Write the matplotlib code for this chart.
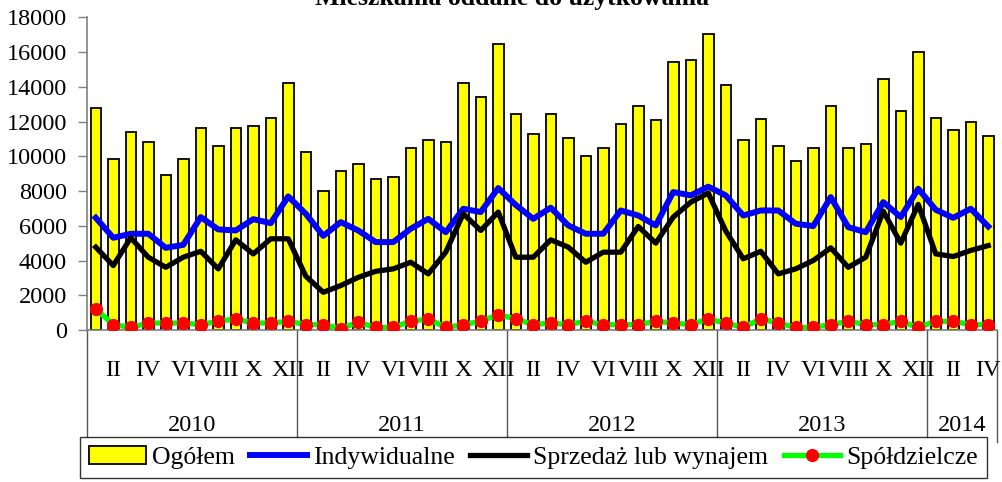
import matplotlib
matplotlib.use("Agg")
import matplotlib.pyplot as plt
from matplotlib.patches import Patch
from matplotlib.lines import Line2D
import numpy as np

plt.rcParams['font.family'] = ['Liberation Serif', 'DejaVu Serif']

# monthly data, I 2010 - IV 2014
years = ['2010', '2011', '2012', '2013', '2014']
months_per_year = [12, 12, 12, 12, 4]
month_names = ['I', 'II', 'III', 'IV', 'V', 'VI', 'VII', 'VIII', 'IX', 'X', 'XI', 'XII']

ogolem = [12800, 9870, 11400, 10800, 8940, 9870, 11630, 10580, 11630, 11750, 12230, 14230,
          10230, 8000, 9170, 9540, 8690, 8830, 10480, 10920, 10830, 14230, 13400, 16460,
          12460, 11290, 12460, 11060, 10000, 10480, 11860, 12920, 12090, 15400, 15520, 17050,
          14090, 10920, 12120, 10580, 9750, 10460, 12920, 10460, 10690, 14460, 12580, 15980,
          12210, 11520, 11980, 11150]
indywidualne = [6460, 5310, 5540, 5540, 4730, 4900, 6500, 5790, 5730, 6380, 6150, 7690,
                6690, 5420, 6210, 5730, 5060, 5060, 5830, 6400, 5630, 6980, 6790, 8170,
                7200, 6400, 7040, 6020, 5540, 5540, 6880, 6590, 6020, 7940, 7750, 8250,
                7750, 6590, 6880, 6880, 6120, 5980, 7650, 5920, 5630, 7360, 6500, 8130,
                6920, 6460, 6980, 5960]
sprzedaz = [4770, 3710, 5310, 4190, 3610, 4190, 4530, 3520, 5190, 4380, 5250, 5250,
            3100, 2170, 2560, 3030, 3380, 3520, 3900, 3230, 4480, 6690, 5730, 6790,
            4190, 4190, 5190, 4770, 3900, 4480, 4480, 5960, 5000, 6500, 7360, 7880,
            5700, 4100, 4530, 3230, 3520, 4000, 4730, 3610, 4190, 6840, 5000, 7230,
            4380, 4230, 4580, 4860]
spoldzielcze = [1210, 310, 150, 400, 400, 400, 310, 500, 640, 400, 400, 500,
                310, 310, 80, 440, 150, 150, 500, 640, 150, 310, 500, 880,
                640, 310, 400, 310, 500, 310, 310, 310, 500, 400, 310, 640,
                400, 150, 640, 400, 150, 150, 310, 500, 310, 310, 500, 150,
                500, 500, 310, 310]

n = len(ogolem)
x = np.arange(n)

fig = plt.figure(figsize=(10.03, 4.82), dpi=100)
W, H = 1003, 482
ax = fig.add_axes([87 / W, (H - 330) / H, (997 - 87) / W, (330 - 17.3) / H])

ax.bar(x, ogolem, width=0.6, color='#ffff00', edgecolor='black', linewidth=1.3, zorder=2)
ax.plot(x, indywidualne, color='#0000ff', linewidth=4.3, zorder=3)
ax.plot(x, sprzedaz, color='black', linewidth=3.8, zorder=4)
ax.plot(x, spoldzielcze, color='#00ff00', linewidth=3.8, marker='o', markersize=8.5,
        markerfacecolor='#ff0000', markeredgecolor='#ff0000', zorder=5)

ax.set_xlim(-0.5, n - 0.5)
ax.set_ylim(0, 18000)
ax.set_yticks(np.arange(0, 18001, 2000))
ax.tick_params(axis='y', labelsize=17.5, length=6.5, width=1, color='#808080', pad=8)
ax.set_xticks([])
for s in ['top', 'right']:
    ax.spines[s].set_visible(False)
for s in ['left', 'bottom']:
    ax.spines[s].set_color('#808080')
    ax.spines[s].set_linewidth(1.2)

# category axis: months and years
tr = ax.get_xaxis_transform()
start = 0
bounds = [0]
for yr, cnt in zip(years, months_per_year):
    for m in range(cnt):
        if m % 2 == 1:
            ax.text(start + m, -0.13, month_names[m], transform=tr, ha='center', va='center',
                    fontsize=17.5, clip_on=False)
    ax.text(start + (cnt - 1) / 2, -0.305, yr, transform=tr, ha='center', va='center',
            fontsize=17.5, clip_on=False)
    start += cnt
    bounds.append(start)
for i, b in enumerate(bounds):
    ybot = -0.358 if i == len(bounds) - 1 else -0.342
    ax.plot([b - 0.5, b - 0.5], [0, ybot], transform=tr, color='#555555', linewidth=1,
            clip_on=False)

fig.text(0.511, 1 - 5 / H, 'Mieszkania oddane do użytkowania', ha='center', va='baseline',
         fontsize=18.5, fontweight='bold')

handles = [Patch(facecolor='#ffff00', edgecolor='black', linewidth=1.3),
           Line2D([], [], color='#0000ff', linewidth=4.3),
           Line2D([], [], color='black', linewidth=3.8),
           Line2D([], [], color='#00ff00', linewidth=3.8, marker='o', markersize=8.5,
                  markerfacecolor='#ff0000', markeredgecolor='#ff0000')]
labels = ['Ogółem', 'Indywidualne', 'Sprzedaż lub wynajem', 'Spółdzielcze']
leg = fig.legend(handles, labels, loc='upper left', bbox_to_anchor=(80 / W, 1 - 437 / H),
                 ncol=4, fontsize=18.5, frameon=True, fancybox=False, edgecolor='black',
                 handlelength=2.2, handletextpad=0.25, columnspacing=0.6, borderpad=0.35,
                 borderaxespad=0)
leg.get_frame().set_linewidth(1)

fig.savefig('out.png', dpi=100)
